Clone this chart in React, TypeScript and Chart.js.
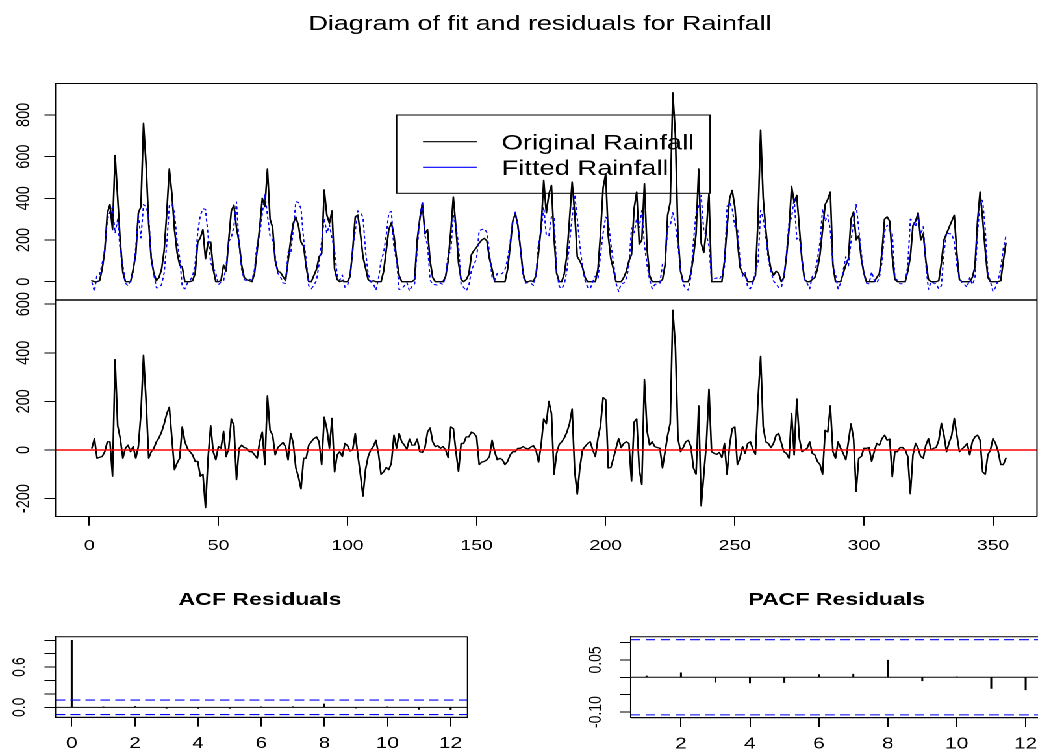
import { useEffect, useRef } from "react";
import { Chart, registerables } from "chart.js";

Chart.register(...registerables);

// ---------------------------------------------------------------------------
// Monthly rainfall series (months 1..355), one row per year
// ---------------------------------------------------------------------------
const originalRainfall: number[] = [
  5, 0, 0, 5, 60, 150, 330, 370, 250, 605, 400, 190,
  45, 0, 0, 0, 60, 130, 330, 360, 760, 560, 280, 110,
  40, 5, 20, 60, 150, 330, 541, 420, 250, 140, 80, 70,
  0, 0, 0, 5, 40, 190, 210, 250, 110, 190, 190, 60,
  0, 0, 5, 80, 50, 200, 340, 367, 260, 190, 80, 20,
  10, 5, 0, 40, 150, 260, 400, 360, 541, 300, 260, 100,
  50, 45, 25, 5, 100, 200, 280, 310, 270, 190, 170, 70,
  0, 0, 30, 60, 120, 135, 440, 320, 280, 340, 60, 10,
  0, 5, 0, 0, 25, 150, 311, 320, 230, 120, 65, 10,
  0, 5, 0, 0, 0, 50, 150, 250, 283, 220, 110, 30,
  0, 0, 0, 0, 0, 10, 200, 300, 375, 230, 250, 100,
  20, 0, 0, 0, 0, 25, 100, 240, 406, 260, 90, 10,
  0, 10, 35, 130, 150, 165, 185, 200, 208, 195, 110, 60,
  0, 0, 0, 0, 0, 60, 170, 290, 327, 270, 160, 40,
  0, 0, 5, 0, 30, 140, 260, 486, 330, 420, 462, 210,
  40, 0, 0, 40, 130, 300, 478, 330, 120, 100, 70, 20,
  0, 0, 0, 0, 60, 230, 450, 517, 220, 110, 60, 0,
  0, 0, 20, 50, 100, 130, 350, 430, 180, 200, 470, 160,
  30, 0, 0, 0, 0, 10, 80, 320, 380, 906, 700, 220,
  50, 0, 0, 0, 40, 120, 230, 541, 184, 140, 250, 422,
  0, 0, 0, 0, 0, 100, 260, 400, 438, 360, 200, 70,
  40, 30, 0, 0, 0, 30, 300, 727, 400, 250, 130, 60,
  30, 50, 40, 0, 20, 120, 250, 457, 380, 414, 260, 105,
  10, 0, 0, 10, 20, 60, 130, 250, 370, 395, 430, 80,
  0, 0, 0, 40, 80, 110, 300, 335, 200, 220, 110, 40,
  0, 0, 0, 0, 20, 40, 140, 300, 311, 290, 120, 10,
  0, 0, 0, 0, 50, 120, 270, 290, 330, 200, 230, 100,
  10, 0, 0, 0, 5, 90, 200, 230, 260, 290, 319, 137,
  10, 0, 0, 0, 0, 20, 70, 290, 430, 300, 150, 20,
  0, 0, 0, 0, 5, 100, 184,
];

const fittedRainfall: number[] = [
  -2, -47, 34, 35, 87, 157, 296, 336, 358, 233, 300, 143,
  79, -7, -20, 7, 46, 164, 316, 210, 370, 360, 314, 117,
  33, -29, -30, -14, 42, 181, 365, 373, 331, 194, 114, -25,
  -34, -7, 7, 25, 87, 237, 318, 350, 347, 224, 90, 67,
  40, -14, -2, 3, 77, 193, 212, 266, 382, 183, 60, 10,
  3, 12, 7, 60, 184, 226, 326, 420, 318, 219, 199, 120,
  40, 25, -6, -9, 141, 132, 253, 384, 380, 350, 204, 104,
  -20, -34, -17, 6, 86, 195, 305, 232, 273, 210, 150, 30,
  7, 32, -27, -18, 29, 150, 243, 340, 331, 310, 145, 37,
  0, -9, -40, 14, 100, 140, 222, 331, 337, 159, 103, -38,
  -34, -20, -4, -45, -20, -10, 155, 307, 385, 220, 176, 9,
  -14, -14, -18, -7, -14, 25, 131, 145, 318, 267, 178, -17,
  -27, -44, -19, 56, 82, 111, 245, 250, 255, 235, 137, 20,
  7, 40, 34, 40, 60, 107, 190, 297, 334, 263, 153, 26,
  -7, -4, -7, -18, 30, 190, 240, 358, 222, 220, 312, 310,
  54, -23, -34, -10, 56, 192, 309, 418, 302, 174, 70, 6,
  -27, -34, 0, 27, 13, 129, 234, 310, 294, 182, 94, -7,
  -47, -10, -7, 16, 73, 258, 235, 302, 260, 342, 180, 80,
  10, -34, -14, -10, -7, 84, 87, 259, 270, 331, 274, 173,
  57, -10, -34, -40, 26, 194, 330, 359, 414, 241, 223, 172,
  7, 14, 18, 10, 31, 73, 360, 380, 350, 265, 260, 104,
  26, 44, -27, -34, -4, 48, 90, 342, 305, 216, 103, 50,
  3, -11, -28, -30, 27, 134, 284, 307, 400, 204, 213, 112,
  10, -7, -34, 24, 40, 107, 190, 350, 289, 321, 248, 87,
  34, -34, -7, 54, 120, 76, 192, 288, 370, 254, 137, 33,
  -7, -10, 47, 7, -7, 20, 93, 239, 271, 245, 230, 17,
  7, -10, -10, 0, 77, 300, 290, 263, 323, 227, 264, 80,
  -37, 0, -7, -10, -35, -20, 139, 237, 230, 230, 189, 76,
  17, -4, -14, -27, 20, -14, 16, 229, 390, 390, 250, 40,
  0, -47, -27, 7, 65, 160, 218,
];

const residualValues: number[] = [
  7, 47, -34, -30, -27, -7, 34, 34, -108, 372, 100, 47,
  -34, 7, 20, -7, 14, -34, 14, 150, 390, 200, -34, -7,
  7, 34, 50, 74, 108, 149, 176, 47, -81, -54, -34, 95,
  34, 7, -7, -20, -47, -47, -108, -100, -237, -34, 100, -7,
  -40, 14, 7, 77, -27, 7, 128, 101, -122, 7, 20, 10,
  7, -7, -7, -20, -34, 34, 74, -60, 223, 81, 61, -20,
  10, 20, 31, 14, -41, 68, 27, -74, -110, -160, -34, -34,
  20, 34, 47, 54, 34, -60, 135, 88, 7, 130, -90, -20,
  -7, -27, 27, 18, -4, 0, 68, -20, -101, -190, -80, -27,
  0, 14, 40, -14, -100, -90, -72, -81, -54, 61, 7, 68,
  34, 20, 4, 45, 20, 20, 45, -7, -10, 10, 74, 91,
  34, 14, 18, 7, 14, 0, -31, 95, 88, -7, -88, 27,
  27, 54, 54, 74, 68, 54, -60, -50, -47, -40, -27, 40,
  -7, -40, -34, -40, -60, -47, -20, -7, -7, 7, 7, 14,
  7, 4, 12, 18, 0, -50, 20, 128, 108, 200, 150, -100,
  -14, 23, 34, 50, 74, 108, 169, -88, -182, -74, 0, 14,
  27, 34, 0, -27, 47, 101, 216, 207, -74, -72, -34, 7,
  47, 10, 27, 34, 27, -128, 115, 128, -80, -142, 290, 80,
  20, 34, 14, 10, 7, -74, -7, 61, 110, 575, 426, 47,
  -7, 10, 34, 40, 14, -74, -100, 182, -230, -101, 27, 250,
  -7, -14, -18, -10, -31, 27, -100, 20, 88, 95, -60, -34,
  14, -14, 27, 34, 4, -18, 210, 385, 95, 34, 27, 10,
  27, 61, 68, 30, -7, -14, -34, 150, -20, 210, 47, -7,
  0, 7, 34, -14, -20, -47, -60, -100, 81, 74, 182, -7,
  -34, 34, 7, -14, -40, 34, 108, 47, -170, -34, -27, 7,
  7, 10, -47, -7, 27, 20, 47, 61, 40, 45, -110, -7,
  -7, 10, 10, 0, -27, -180, -20, 27, 7, -27, -34, 20,
  47, 0, 7, 10, 40, 110, 61, -7, 30, 60, 130, 61,
  -7, 4, 14, 27, -20, 34, 54, 61, 40, -90, -100, -20,
  0, 47, 27, -7, -60, -60, -34,
];

const residualBaseline = 0;

// Autocorrelation of the residuals
const acfLags = [0, 1, 2, 3, 4, 5, 6, 7, 8, 9, 10, 11, 12];
const acfValues = [1.0, 0.004, 0.013, -0.014, -0.016, -0.015, 0.008, 0.009, 0.05, -0.01, 0.001, -0.032, -0.036];
const pacfLags = [1, 2, 3, 4, 5, 6, 7, 8, 9, 10, 11, 12];
const pacfValues = [0.004, 0.013, -0.014, -0.016, -0.015, 0.008, 0.009, 0.049, -0.01, 0.001, -0.032, -0.036];
const confidenceBound = 0.108;

// Axis ticks and their labels
const fitTicks = [0, 200, 400, 600, 800];
const fitTickLabels = ["0", "200", "400", "600", "800"];
const residualTicks = [-200, 0, 200, 400, 600];
const residualTickLabels = ["-200", "0", "200", "400", "600"];
const timeTicks = [0, 50, 100, 150, 200, 250, 300, 350];
const acfLagTicks = [0, 2, 4, 6, 8, 10, 12];
const pacfLagTicks = [2, 4, 6, 8, 10, 12];
const acfTicks = [0, 0.2, 0.4, 0.6, 0.8, 1.0];
const acfTickLabels = ["0.0", "", "", "0.6", "", ""];
const pacfTicks = [-0.1, -0.05, 0, 0.05, 0.1];
const pacfTickLabels = ["-0.10", "", "", "0.05", ""];

const seriesNames = ["Original Rainfall", "Fitted Rainfall"];
const mainTitle = "Diagram of fit and residuals for Rainfall";
const acfTitle = "ACF Residuals";
const pacfTitle = "PACF Residuals";

// ---------------------------------------------------------------------------
// Page geometry: the drawing is made on a narrower canvas and stretched
// horizontally, so text and marks come out wide.
// ---------------------------------------------------------------------------
const FONT = "'Liberation Sans', Arial, Helvetica, sans-serif";
const PAGE_W = 1038;
const CANVAS_W = 799;
const CANVAS_H = 751;
const STRETCH = PAGE_W / CANVAS_W;
const ux = (px: number) => px / STRETCH;

type Box = { left: number; top: number; right: number; bottom: number };

const FIT_BOX: Box = { left: 55.5, top: 83.5, right: 1037, bottom: 300 };
const RESID_BOX: Box = { left: 55.5, top: 300, right: 1037, bottom: 516.5 };
const ACF_BOX: Box = { left: 55.5, top: 636.7, right: 467.5, bottom: 717.3 };
const PACF_BOX: Box = { left: 630.7, top: 636.7, right: 1038, bottom: 717.7 };

const TIME_RANGE = { min: -13.09, max: 367.04 };
const FIT_RANGE = { min: -87.8, max: 950.6 };
const RESID_RANGE = { min: -273.7, max: 617.3 };
const ACF_LAG_RANGE = { min: -0.513, max: 12.533 };
const ACF_RANGE = { min: -0.149, max: 1.054 };
const PACF_LAG_RANGE = { min: 0.541, max: 12.357 };
const PACF_RANGE = { min: -0.1161, max: 0.1167 };

const Y_TICK_LEN = 8.5;
const X_TICK_LEN = 9.3;

const toSeries = (values: number[]) => values.map((y, k) => ({ x: k + 1, y }));
const toLagSeries = (lags: number[], values: number[]) => lags.map((x, k) => ({ x, y: values[k] }));
const hLine = (range: { min: number; max: number }, y: number) => [
  { x: range.min, y },
  { x: range.max, y },
];

function layoutFor(box: Box, xVisible: boolean) {
  return {
    padding: {
      left: 0,
      top: box.top,
      right: Math.max(0, CANVAS_W - ux(box.right)),
      bottom: xVisible ? 0 : CANVAS_H - box.bottom,
    },
  };
}

function valueAxis(o: {
  range: { min: number; max: number };
  ticks: number[];
  labels: string[];
  box: Box;
  size: number;
  padding: number;
}) {
  return {
    type: "linear",
    position: "left",
    bounds: "data",
    min: o.range.min,
    max: o.range.max,
    afterBuildTicks: (s: any) => {
      s.ticks = o.ticks.map((value) => ({ value }));
    },
    afterFit: (s: any) => {
      s.width = ux(o.box.left);
      s.paddingTop = 0;
      s.paddingBottom = 0;
    },
    ticks: {
      autoSkip: false,
      minRotation: 90,
      maxRotation: 90,
      crossAlign: "center",
      padding: o.padding,
      color: "#000",
      font: { family: FONT, size: o.size },
      callback: (_v: any, i: number) => o.labels[i],
    },
    grid: {
      display: true,
      drawOnChartArea: false,
      drawTicks: true,
      tickLength: Y_TICK_LEN,
      tickColor: "#000",
      tickWidth: 1,
    },
    border: { display: true, color: "#000", width: 1 },
  };
}

function indexAxis(o: {
  range: { min: number; max: number };
  ticks: number[];
  box: Box;
  size: number;
  padding: number;
}) {
  return {
    type: "linear",
    position: "bottom",
    bounds: "data",
    offset: false,
    min: o.range.min,
    max: o.range.max,
    afterBuildTicks: (s: any) => {
      s.ticks = o.ticks.map((value) => ({ value }));
    },
    afterFit: (s: any) => {
      s.height = CANVAS_H - o.box.bottom;
      s.paddingLeft = 0;
      s.paddingRight = 0;
    },
    ticks: {
      autoSkip: false,
      minRotation: 0,
      maxRotation: 0,
      padding: o.padding,
      color: "#000",
      font: { family: FONT, size: o.size },
      callback: (v: any) => String(v),
    },
    grid: {
      display: true,
      offset: false,
      drawOnChartArea: false,
      drawTicks: true,
      tickLength: X_TICK_LEN,
      tickColor: "#000",
      tickWidth: 1,
    },
    border: { display: true, color: "#000", width: 1 },
  };
}

// Plot frame around the chart area
const framePlugin = {
  id: "frame",
  afterDatasetsDraw(chart: any, _args: any, opts: any) {
    const { ctx, chartArea: a } = chart;
    const sides: string = (opts && opts.sides) || "tlbr";
    ctx.save();
    ctx.strokeStyle = "#000";
    ctx.lineWidth = 1;
    ctx.setLineDash([]);
    ctx.beginPath();
    if (sides.includes("t")) {
      ctx.moveTo(a.left, a.top);
      ctx.lineTo(a.right, a.top);
    }
    if (sides.includes("b")) {
      ctx.moveTo(a.left, a.bottom);
      ctx.lineTo(a.right, a.bottom);
    }
    if (sides.includes("l")) {
      ctx.moveTo(a.left, a.top);
      ctx.lineTo(a.left, a.bottom);
    }
    if (sides.includes("r")) {
      ctx.moveTo(a.right, a.top);
      ctx.lineTo(a.right, a.bottom);
    }
    ctx.stroke();
    ctx.restore();
  },
};

// Free-standing headings
const captionsPlugin = {
  id: "captions",
  afterDraw(chart: any, _args: any, opts: any) {
    const { ctx } = chart;
    ctx.save();
    ctx.fillStyle = "#000";
    ctx.textAlign = "center";
    ctx.textBaseline = "alphabetic";
    for (const t of opts.items || []) {
      ctx.font = `${t.weight || "normal"} ${t.size}px ${FONT}`;
      ctx.fillText(t.text, t.x, t.y);
    }
    ctx.restore();
  },
};

// Boxed key inside the fit panel, built from the datasets
const seriesKeyPlugin = {
  id: "seriesKey",
  beforeDatasetsDraw(chart: any, _args: any, o: any) {
    const { ctx } = chart;
    ctx.save();
    ctx.setLineDash([]);
    ctx.strokeStyle = "#000";
    ctx.lineWidth = 1;
    ctx.strokeRect(o.left, o.top, o.right - o.left, o.bottom - o.top);
    ctx.font = `${o.size}px ${FONT}`;
    ctx.textAlign = "left";
    ctx.textBaseline = "alphabetic";
    ctx.fillStyle = "#000";
    chart.data.datasets.forEach((ds: any, i: number) => {
      const y = o.rows[i];
      ctx.strokeStyle = ds.borderColor;
      ctx.lineWidth = 1.1;
      ctx.beginPath();
      ctx.moveTo(o.lineStart, y);
      ctx.lineTo(o.lineEnd, y);
      ctx.stroke();
      ctx.fillText(ds.label, o.textX, y + o.size * 0.37);
    });
    ctx.restore();
  },
};

const baseOptions = {
  responsive: false,
  animation: false,
  devicePixelRatio: 2,
  events: [],
};

function fitConfig(): any {
  return {
    type: "line",
    data: {
      datasets: [
        {
          label: seriesNames[0],
          data: toSeries(originalRainfall),
          borderColor: "#000000",
          borderWidth: 1.3,
          pointRadius: 0,
          borderJoinStyle: "round",
          borderCapStyle: "round",
          order: 1,
        },
        {
          label: seriesNames[1],
          data: toSeries(fittedRainfall),
          borderColor: "#0000ff",
          borderWidth: 1.0,
          borderDash: [3, 2.6],
          pointRadius: 0,
          borderJoinStyle: "round",
          order: 0,
        },
      ],
    },
    options: {
      ...baseOptions,
      layout: layoutFor(FIT_BOX, false),
      scales: {
        x: { type: "linear", display: false, bounds: "data", min: TIME_RANGE.min, max: TIME_RANGE.max },
        y: valueAxis({ range: FIT_RANGE, ticks: fitTicks, labels: fitTickLabels, box: FIT_BOX, size: 14.5, padding: 3.6 }),
      },
      plugins: {
        legend: { display: false },
        tooltip: { enabled: false },
        frame: { sides: "tlbr" },
        captions: { items: [{ text: mainTitle, x: ux(540), y: 30, size: 20.7 }] },
        seriesKey: {
          left: ux(396.7),
          right: ux(710),
          top: 115,
          bottom: 193.3,
          lineStart: ux(423),
          lineEnd: ux(476.7),
          textX: ux(501.7),
          rows: [141.7, 167.3],
          size: 21,
        },
      },
    },
    plugins: [framePlugin, captionsPlugin, seriesKeyPlugin],
  };
}

function residualConfig(): any {
  return {
    type: "line",
    data: {
      datasets: [
        {
          label: "Residuals",
          data: toSeries(residualValues),
          borderColor: "#000000",
          borderWidth: 1.3,
          pointRadius: 0,
          borderJoinStyle: "round",
          borderCapStyle: "round",
          order: 1,
        },
        {
          label: "Zero",
          data: hLine(TIME_RANGE, residualBaseline),
          borderColor: "#ff0000",
          borderWidth: 1.5,
          pointRadius: 0,
          order: 0,
        },
      ],
    },
    options: {
      ...baseOptions,
      layout: layoutFor(RESID_BOX, true),
      scales: {
        x: indexAxis({ range: TIME_RANGE, ticks: timeTicks, box: RESID_BOX, size: 15, padding: 11 }),
        y: valueAxis({
          range: RESID_RANGE,
          ticks: residualTicks,
          labels: residualTickLabels,
          box: RESID_BOX,
          size: 14.5,
          padding: 1.3,
        }),
      },
      plugins: {
        legend: { display: false },
        tooltip: { enabled: false },
        frame: { sides: "tlbr" },
      },
    },
    plugins: [framePlugin],
  };
}

function correlogramConfig(o: {
  lags: number[];
  values: number[];
  lagRange: { min: number; max: number };
  range: { min: number; max: number };
  lagTicks: number[];
  ticks: number[];
  tickLabels: string[];
  box: Box;
  labelPadding: number;
  title: string;
  titleX: number;
  sides: string;
}): any {
  const dashed = (y: number) => ({
    type: "line",
    data: hLine(o.lagRange, y),
    borderColor: "#0000ff",
    borderWidth: 1.1,
    borderDash: [7.5, 4],
    pointRadius: 0,
    order: 0,
  });
  return {
    type: "bar",
    data: {
      datasets: [
        {
          type: "bar",
          data: toLagSeries(o.lags, o.values),
          backgroundColor: "#000000",
          borderWidth: 0,
          barThickness: 0.85,
          order: 1,
        },
        {
          type: "line",
          data: hLine(o.lagRange, 0),
          borderColor: "#000000",
          borderWidth: 1,
          pointRadius: 0,
          order: 0,
        },
        dashed(confidenceBound),
        dashed(-confidenceBound),
      ],
    },
    options: {
      ...baseOptions,
      layout: layoutFor(o.box, true),
      scales: {
        x: indexAxis({ range: o.lagRange, ticks: o.lagTicks, box: o.box, size: 16, padding: 7.5 }),
        y: valueAxis({
          range: o.range,
          ticks: o.ticks,
          labels: o.tickLabels,
          box: o.box,
          size: 14,
          padding: o.labelPadding,
        }),
      },
      plugins: {
        legend: { display: false },
        tooltip: { enabled: false },
        frame: { sides: o.sides },
        captions: { items: [{ text: o.title, x: o.titleX, y: 605, size: 17.8, weight: "bold" }] },
      },
    },
    plugins: [framePlugin, captionsPlugin],
  };
}

export default function App() {
  const fitRef = useRef<HTMLCanvasElement>(null);
  const residRef = useRef<HTMLCanvasElement>(null);
  const acfRef = useRef<HTMLCanvasElement>(null);
  const pacfRef = useRef<HTMLCanvasElement>(null);

  useEffect(() => {
    const charts = [
      new Chart(fitRef.current as HTMLCanvasElement, fitConfig()),
      new Chart(residRef.current as HTMLCanvasElement, residualConfig()),
      new Chart(
        acfRef.current as HTMLCanvasElement,
        correlogramConfig({
          lags: acfLags,
          values: acfValues,
          lagRange: ACF_LAG_RANGE,
          range: ACF_RANGE,
          lagTicks: acfLagTicks,
          ticks: acfTicks,
          tickLabels: acfTickLabels,
          box: ACF_BOX,
          labelPadding: 9.1,
          title: acfTitle,
          titleX: ux(260),
          sides: "tlbr",
        })
      ),
      new Chart(
        pacfRef.current as HTMLCanvasElement,
        correlogramConfig({
          lags: pacfLags,
          values: pacfValues,
          lagRange: PACF_LAG_RANGE,
          range: PACF_RANGE,
          lagTicks: pacfLagTicks,
          ticks: pacfTicks,
          tickLabels: pacfTickLabels,
          box: PACF_BOX,
          labelPadding: 2.5,
          title: pacfTitle,
          titleX: ux(836.7),
          sides: "tlb",
        })
      ),
    ];
    return () => charts.forEach((c) => c.destroy());
  }, []);

  const canvasStyle: any = {
    position: "absolute",
    left: 0,
    top: 0,
    width: CANVAS_W,
    height: CANVAS_H,
  };

  return (
    <div
      style={{
        position: "absolute",
        left: 0,
        top: 0,
        width: PAGE_W,
        height: CANVAS_H,
        overflow: "hidden",
        background: "#ffffff",
      }}
    >
      <div
        style={{
          position: "absolute",
          left: 0,
          top: 0,
          width: CANVAS_W,
          height: CANVAS_H,
          transform: `scaleX(${STRETCH})`,
          transformOrigin: "0 0",
        }}
      >
        <canvas ref={fitRef} width={CANVAS_W} height={CANVAS_H} style={canvasStyle} />
        <canvas ref={residRef} width={CANVAS_W} height={CANVAS_H} style={canvasStyle} />
        <canvas ref={acfRef} width={CANVAS_W} height={CANVAS_H} style={canvasStyle} />
        <canvas ref={pacfRef} width={CANVAS_W} height={CANVAS_H} style={canvasStyle} />
      </div>
    </div>
  );
}
